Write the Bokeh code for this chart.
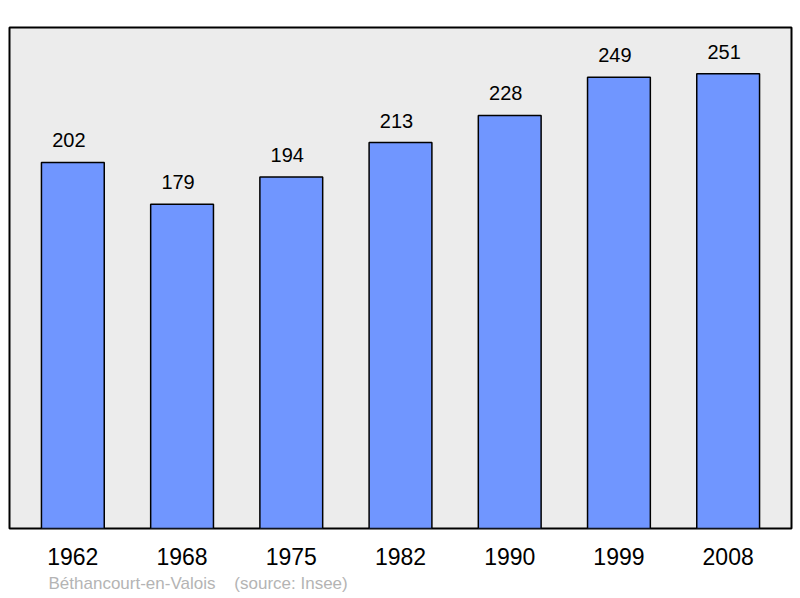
from bokeh.plotting import figure
from bokeh.models import ColumnDataSource, FactorRange, Range1d, LabelSet, Title
from bokeh.core.properties import value
from bokeh.embed import file_html
from bokeh.resources import INLINE

years = ["1962", "1968", "1975", "1982", "1990", "1999", "2008"]
population = [202, 179, 194, 213, 228, 249, 251]
town = "Béthancourt-en-Valois"
source_note = "(source: Insee)"

FONT = "Liberation Sans"

src = ColumnDataSource(dict(years=years, population=population,
                            labels=[str(v) for v in population]))

p = figure(width=800, height=598, output_backend="svg", toolbar_location=None,
           x_range=FactorRange(*years, range_padding=0.16 / 7),
           y_range=Range1d(0, 276.5),
           min_border_left=9, min_border_right=9, min_border_top=27,
           min_border_bottom=70)

p.background_fill_color = "#ececec"
p.border_fill_color = "white"
p.outline_line_color = "black"
p.outline_line_width = 2

p.vbar(x="years", top="population", width=0.575, source=src,
       fill_color="#7096ff", line_color="black", line_width=1.5)

labels = LabelSet(x="years", y="population", text="labels", source=src,
                  x_offset=-4, y_offset=15, text_align="center",
                  text_baseline="alphabetic",
                  text_font=value(FONT), text_font_size=value("20px"),
                  text_color="black")
p.add_layout(labels)

p.yaxis.visible = False
p.xgrid.grid_line_color = None
p.ygrid.grid_line_color = None
xa = p.xaxis[0]
xa.axis_line_color = None
xa.major_tick_line_color = None
xa.minor_tick_line_color = None
xa.major_tick_out = 0
xa.major_tick_in = 0
xa.major_label_standoff = 19
xa.major_label_text_font = FONT
xa.major_label_text_font_size = "23px"
xa.major_label_text_color = "black"

note = Title(text=town + "\u00a0\u00a0\u00a0\u00a0" + source_note, align="left",
             offset=39, text_font=FONT, text_font_size="17px",
             text_color="#b4b4b4", text_font_style="normal", standoff=9)
p.add_layout(note, "below")

open("out.html", "w").write(file_html(p, INLINE))
